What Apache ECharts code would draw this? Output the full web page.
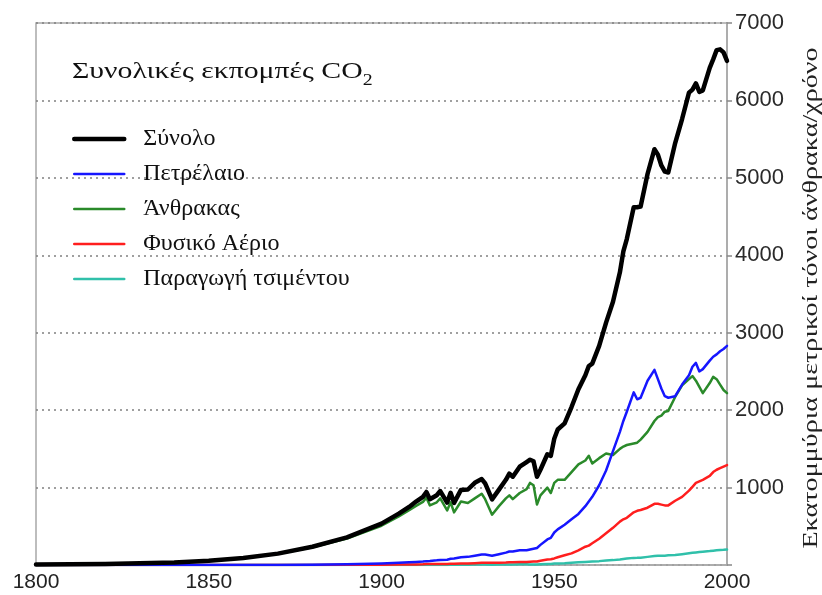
<!DOCTYPE html>
<html>
<head>
<meta charset="utf-8">
<script src="https://cdn.jsdelivr.net/npm/echarts@6/dist/echarts.min.js"></script>
<style>
  html, body { margin: 0; padding: 0; background: #fff; }
  #chart { width: 822px; height: 595px; }
</style>
</head>
<body>
<div id="chart"></div>
<script>
// Global CO2 emissions by source, million metric tonnes of carbon per year
const years = [1800,1810,1820,1830,1840,1850,1860,1870,1880,1890,
  1900,1905,1908,1910,1912,1913,1914,1916,1917,1919,
  1920,1921,1923,1925,1927,1929,1930,1932,1934,1936,
  1937,1938,1940,1942,1943,1944,1945,1946,1948,1949,
  1950,1951,1953,1955,1957,1959,1960,1961,1963,1965,
  1967,1969,1970,1971,1973,1974,1975,1977,1979,1980,
  1981,1982,1983,1985,1987,1989,1990,1991,1992,1993,
  1995,1996,1997,1998,1999,2000];

const total = [8,10,14,24,33,54,91,147,236,356,
  534,663,750,819,880,943,850,901,955,806,
  932,803,970,975,1062,1110,1053,847,973,1100,
  1180,1140,1270,1330,1360,1340,1140,1230,1430,1410,
  1630,1750,1830,2040,2270,2450,2570,2600,2830,3130,
  3400,3780,4050,4210,4620,4620,4630,5050,5370,5300,
  5160,5080,5070,5450,5760,6100,6140,6220,6110,6130,
  6420,6530,6650,6660,6620,6510];

const oil = [0,0,0,0,0,0,0,1,4,10,
  20,28,35,40,45,50,52,60,65,68,
  80,85,100,105,120,135,135,120,140,160,
  175,175,190,190,200,210,220,260,330,350,
  420,460,520,590,660,760,820,880,1030,1220,
  1470,1720,1860,1980,2230,2140,2160,2380,2520,2400,
  2280,2180,2160,2180,2330,2450,2560,2610,2500,2530,
  2640,2690,2720,2760,2790,2830];

const coal = [8,10,14,24,33,54,91,145,228,341,
  507,627,708,763,815,868,770,810,860,705,
  810,680,820,800,860,920,850,650,760,860,
  900,850,930,980,1060,1030,780,900,1000,930,
  1060,1100,1100,1200,1300,1350,1410,1310,1380,1440,
  1420,1500,1530,1550,1570,1580,1620,1720,1860,1910,
  1930,1980,1990,2170,2320,2400,2440,2380,2300,2220,
  2350,2430,2400,2330,2260,2220];

const gas = [0,0,0,0,0,0,0,0,0,2,
  4,6,7,8,10,12,12,13,14,14,
  15,15,18,20,24,28,30,28,30,33,
  36,35,38,40,42,44,45,55,70,75,
  85,100,125,150,190,236,250,280,340,410,
  480,560,590,610,680,700,710,740,790,790,
  780,770,770,830,880,960,1010,1060,1080,1100,
  1150,1200,1230,1250,1270,1290];

const cement = [0,0,0,0,0,0,0,0,0,0,
  0,0,0,0,0,0,0,0,0,0,
  2,2,3,4,5,5,5,4,5,7,
  8,8,9,9,8,7,6,9,12,14,
  18,20,24,30,35,40,43,45,50,57,
  63,72,78,83,92,93,95,105,115,120,
  120,121,125,130,140,152,157,162,167,172,
  180,185,190,193,196,200];

const seriesNames = ['Σύνολο', 'Πετρέλαιο', 'Άνθρακας', 'Φυσικό Αέριο', 'Παραγωγή τσιμέντου'];
const yTicks = [0, 1000, 2000, 3000, 4000, 5000, 6000, 7000];
const xTicks = [1800, 1850, 1900, 1950, 2000];
const titleText = 'Συνολικές εκπομπές CO';
const titleSub = '2';
const yName = 'Εκατομμύρια μετρικοί τόνοι άνθρακα/χρόνο';

const pairs = vals => years.map((y, i) => [y, vals[i]]);

const serif = "'Liberation Serif', 'DejaVu Serif', serif";
const sans = "'Liberation Sans', Arial, sans-serif";

function line(name, vals, color, width) {
  return {
    name: name,
    type: 'line',
    data: pairs(vals),
    symbol: 'none',
    smooth: false,
    lineStyle: { color: color, width: width, join: 'round', cap: 'round' },
    itemStyle: { color: color },
    animation: false
  };
}

const chart = echarts.init(document.getElementById('chart'), null, { renderer: 'canvas' });

chart.setOption({
  backgroundColor: '#ffffff',
  animation: false,
  graphic: [
    {
      // chart title, drawn a little wide like the printed figure
      type: 'text',
      x: 72,
      y: 54,
      scaleX: 1.24,
      z: 10,
      style: {
        text: '{m|' + titleText + '}{s|' + titleSub + '}',
        rich: {
          m: { font: '24px ' + serif, fill: '#111', lineHeight: 30, verticalAlign: 'bottom' },
          s: { font: '16px ' + serif, fill: '#111', lineHeight: 22, verticalAlign: 'bottom', padding: [0, 0, -5, 0] }
        }
      }
    },
    {
      // vertical unit label to the right of the value axis
      type: 'text',
      x: 811,
      y: 298,
      rotation: Math.PI / 2,
      scaleX: 1.34,
      z: 10,
      style: {
        text: yName,
        font: '21px ' + serif,
        fill: '#222',
        align: 'center',
        verticalAlign: 'middle'
      }
    }
  ],
  legend: {
    orient: 'vertical',
    left: 72,
    top: 127,
    padding: 0,
    itemWidth: 50,
    itemHeight: 14,
    itemGap: 11,
    data: seriesNames,
    itemStyle: { opacity: 0 },
    lineStyle: { width: 'inherit' },
    textStyle: { fontFamily: serif, fontSize: 24, color: '#111', lineHeight: 24, padding: [0, 0, 0, 14] }
  },
  grid: {
    left: 36, right: 95, top: 23, bottom: 30,
    outerBoundsMode: 'none',
    containLabel: false,
    show: true,
    borderColor: '#a8a8a8',
    borderWidth: 1.5,
    backgroundColor: '#ffffff'
  },
  xAxis: {
    type: 'value',
    min: xTicks[0],
    max: xTicks[xTicks.length - 1],
    interval: 50,
    axisLine: { show: true, lineStyle: { color: '#a8a8a8', width: 1.5 } },
    axisTick: { show: false },
    splitLine: { show: false },
    axisLabel: {
      fontFamily: sans, fontSize: 21, color: '#222', margin: 7,
      formatter: v => String(v)
    }
  },
  yAxis: {
    type: 'value',
    position: 'right',
    min: yTicks[0],
    max: yTicks[yTicks.length - 1],
    interval: 1000,
    axisLine: { show: true, lineStyle: { color: '#a8a8a8', width: 1.5 } },
    axisTick: { show: true, inside: false, length: 5, lineStyle: { color: '#888', width: 1.5 } },
    splitLine: { show: true, lineStyle: { color: '#808080', width: 1.5, type: [2, 4] } },
    axisLabel: {
      fontFamily: sans, fontSize: 22, color: '#2a2a2a', margin: 8,
      formatter: v => (v === 0 ? '' : String(v))
    }
  },
  series: [
    line(seriesNames[4], cement, '#30c0aa', 2.5),
    line(seriesNames[3], gas, '#ff1e1e', 2.5),
    line(seriesNames[2], coal, '#2a8a2a', 2.5),
    line(seriesNames[1], oil, '#1616ff', 2.5),
    line(seriesNames[0], total, '#000000', 4.5)
  ]
});
</script>
</body>
</html>
